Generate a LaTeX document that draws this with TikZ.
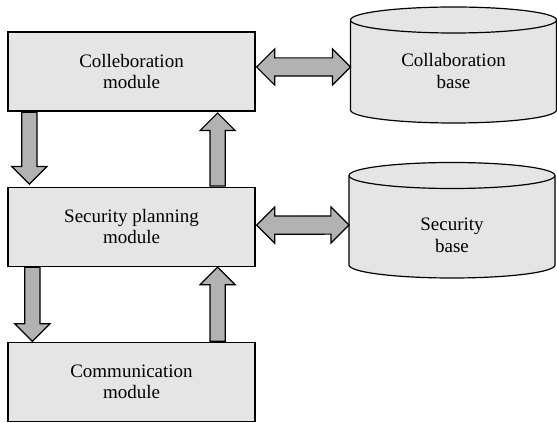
\documentclass[tikz,border=0pt]{standalone}
\usepackage{fontspec}
\setmainfont{Liberation Serif}
\usetikzlibrary{positioning,calc,shapes.arrows,backgrounds}

\begin{document}
\begin{tikzpicture}[x=1pt,y=1pt,node distance=75pt,
        module/.style={draw,line width=1.2pt,fill=gray!20,minimum width=247pt,
            minimum height=79pt,align=center,font=\fontsize{19}{21.5}\selectfont},
        base/.style={minimum width=206pt,outer sep=0pt,align=center,
            font=\fontsize{19}{21.5}\selectfont},
        dbline/.style={draw,line width=1.2pt,fill=gray!20},
        onearrow/.style={single arrow,draw,line width=1.2pt,fill=gray!60,inner xsep=0pt,
            inner ysep=7pt,single arrow head extend=10pt,single arrow tip angle=90,anchor=tail},
        twoarrow/.style={double arrow,draw,line width=1.2pt,fill=gray!60,inner xsep=0pt,
            inner ysep=8.5pt,double arrow head extend=9pt,double arrow tip angle=90},
        fat/.style={to path={let \p1=(\tikztostart),\p2=(\tikztotarget),
            \n1={veclen(\x2-\x1,\y2-\y1)},\n2={atan2(\y2-\y1,\x2-\x1)} in
            (\tikztostart) node[onearrow,minimum height=\n1,rotate=\n2] {}}},
        fatboth/.style={to path={let \p1=(\tikztostart),\p2=(\tikztotarget),
            \n1={veclen(\x2-\x1,\y2-\y1)},\n2={atan2(\y2-\y1,\x2-\x1)} in
            ($(\tikztostart)!.5!(\tikztotarget)$) node[twoarrow,minimum height=\n1,rotate=\n2] {}}}]

    \useasboundingbox (0,0) rectangle (557,423);

    \node[module] (colmod) at (131.5,351.5) {Colleboration\\module};
    \node[module] (secmod) [below=of colmod] {Security planning\\module};
    \node[module] (commod) [below=of secmod] {Communication\\module};

    \node[base] (colbase) at (453.5,352) {Collaboration\\base};
    \node[base] (secbase) at (452,187.5) {Security\\base};

    % the two bases as cylinders behind their text
    \begin{scope}[on background layer]
    \foreach \db/\up/\down in {colbase/51/39,secbase/60/29.5}
        \path[dbline] ($(\db.west)+(0,\up)$)
            -- ($(\db.west)+(0,-\down)$) arc[start angle=180,end angle=360,x radius=103,y radius=13]
            -- ($(\db.east)+(0,\up)$) arc[start angle=0,end angle=180,x radius=103,y radius=13]
            -- cycle
            ($(\db.west)+(0,\up)$) arc[start angle=180,end angle=360,x radius=103,y radius=13];
    \end{scope}

    % module to module
    \path ($(colmod.south west)+(22,0)$) edge[fat] ($(secmod.north west)+(22,3)$);
    \path ($(secmod.north east)+(-38,0)$) edge[fat] ($(colmod.south east)+(-38,-2)$);
    \path ($(secmod.south west)+(25,0)$) edge[fat] ($(commod.north west)+(25,1)$);
    \path ($(commod.north east)+(-38,0)$) edge[fat] ($(secmod.south east)+(-38,-1)$);

    % module to base
    \path ($(colmod.east)+(1,4.5)$) edge[fatboth] ($(colbase.west)+(0,4)$);
    \path ($(secmod.east)+(1,1.5)$) edge[fatboth] ($(secbase.west)+(0,10.5)$);

\end{tikzpicture}
\end{document}
